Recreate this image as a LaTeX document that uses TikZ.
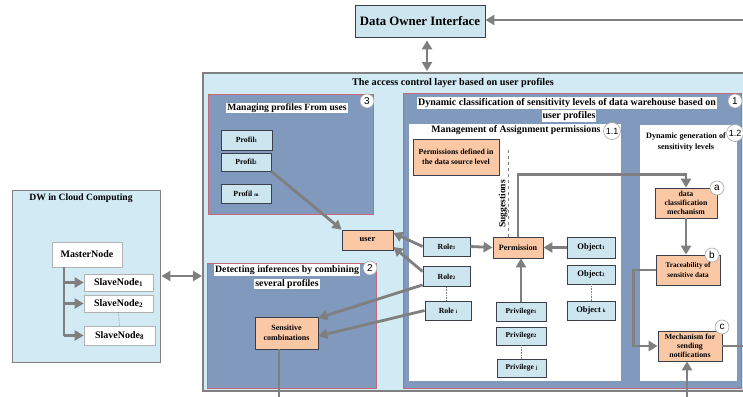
\documentclass[tikz,border=0pt]{standalone}
\usepackage{fontspec}
\setmainfont{Liberation Serif}
\newfontfamily\circfont{Liberation Sans}
\usetikzlibrary{arrows.meta,calc}
\definecolor{lb}{HTML}{D2EAF4}
\definecolor{bx}{HTML}{CDE5EE}
\definecolor{sb}{HTML}{8199BD}
\definecolor{og}{HTML}{FBC8A5}
\definecolor{ar}{HTML}{7F7F7F}
\definecolor{rb}{HTML}{C8667A}
\definecolor{dk}{HTML}{3A3F4A}
\newcommand{\sml}[1]{{\fontsize{5}{5}\selectfont #1}}
\newcommand{\fs}[1]{\fontsize{#1}{#1}\selectfont}
\begin{document}
\begin{tikzpicture}[x=1pt,y=-1pt,
  lbox/.style={draw=dk, fill=bx, line width=0.8pt, inner sep=0pt, font=\bfseries\fs{7.8}},
  wbox/.style={draw=gray!60, fill=white, line width=0.6pt, inner sep=0pt, font=\bfseries\fs{10}},
  obox/.style={draw=dk, fill=og, line width=0.8pt, inner sep=0pt, align=center, font=\bfseries\fontsize{8}{9}\selectfont},
  panel/.style={draw=rb, fill=sb, line width=0.8pt},
  ttl/.style={fill=white, inner sep=1pt, font=\bfseries\fs{9.8}},
  cnum/.style={circle, draw=gray!70, fill=white, line width=0.6pt, inner sep=0.5pt, minimum size=14pt, font=\circfont\fs{10}},
  arr/.style={draw=ar, line width=2.8pt, -{Triangle[length=9pt,width=10pt]}},
  darr/.style={draw=ar, line width=2.8pt, {Triangle[length=9pt,width=10pt]}-{Triangle[length=9pt,width=10pt]}},
  ln/.style={draw=ar, line width=2.8pt},
  dots/.style={draw=gray, line width=0.6pt, densely dotted}
]
\clip (0,0) rectangle (743,396);
\fill[white] (0,0) rectangle (743,396);

% Data owner interface
\node[draw=dk, fill=bx, line width=0.8pt, minimum width=130pt, minimum height=32pt, inner sep=0pt, font=\bfseries\fs{12.8}] (owner) at (420,21) {Data Owner Interface};
\coordinate (ownin) at (750,20);
\draw[arr] (ownin) -- (ownin -| owner.east);

% outer layer
\draw[fill=lb, draw=gray, line width=1.2pt] (203,73) rectangle (760,391);
\coordinate (layertop) at (427,73);
\coordinate (layerleft) at (203,276);
\draw[darr, shorten <=3pt, shorten >=2pt] (owner.south -| layertop) -- (layertop);
\node[font=\bfseries\fs{10.2}, inner sep=0pt] (layertitle) at (453,83) {The access control layer based on user profiles};

% DW in cloud computing
\node[draw=gray, fill=lb, line width=0.8pt, minimum width=148pt, minimum height=172pt, inner sep=0pt] (dw) at (86,276) {};
\node[font=\bfseries\fs{9.6}, inner sep=0pt] (dwtitle) at (81,198) {DW in Cloud Computing};
\node[wbox, minimum width=70pt, minimum height=25pt] (master) at (87,254.5) {MasterNode};
\node[wbox, minimum width=69pt, minimum height=17pt] (slave1) at (118.5,282.5) {SlaveNode\textsubscript{1}};
\node[wbox, minimum width=69pt, minimum height=17pt] (slave2) at (118.5,303.5) {SlaveNode\textsubscript{2}};
\node[wbox, minimum width=71pt, minimum height=19pt] (slave8) at (119.5,335.5) {SlaveNode\textsubscript{8}};
\coordinate (t0) at (64,267);
\draw[ln] (t0) -- (t0 |- slave8.west);
\draw[arr] (slave1.west -| t0) -- (slave1.west);
\draw[arr] (slave2.west -| t0) -- (slave2.west);
\draw[arr] (slave8.west -| t0) -- (slave8.west);
\draw[dots] (slave2.south) -- (slave8.north);
\draw[darr, shorten <=1pt, shorten >=1pt] (dw.east) -- (layerleft);

% Box 3
\draw[panel] (208,94) rectangle (373,214);
\node[ttl, font=\bfseries\fs{9.6}] (t3) at (287,108) {Managing profiles From uses};
\node[cnum] (c3) at (367,101) {3};
\node[lbox, minimum width=51pt, minimum height=20pt] (profil1) at (246.5,140) {Profil\sml{1}};
\node[lbox, minimum width=50pt, minimum height=18pt] (profil2) at (246,162) {Profil\sml{2}};
\node[lbox, minimum width=50pt, minimum height=19pt] (profilm) at (246,193.5) {Profil \sml{m}};

% user
\node[obox, minimum width=51pt, minimum height=20pt, font=\bfseries\fs{8.5}] (user) at (367.5,240) {user};

% Box 2
\draw[panel] (207,263) rectangle (376,388);
\node[ttl] (t2a) at (287,270) {Detecting inferences by combining};
\node[ttl] (t2b) at (287,284) {several profiles};
\node[cnum] (c2) at (370,268) {2};
\node[obox, minimum width=63pt, minimum height=32pt, font=\bfseries\fontsize{8}{10}\selectfont] (sens) at (286.5,333) {Sensitive\\combinations};
\coordinate (sensout) at (279,400);
\draw[ln] (sens.south -| sensout) -- (sensout);

% Box 1
\draw[panel] (403,93) rectangle (741,388);
\node[ttl, font=\bfseries\fs{10}] (t1a) at (567,103) {Dynamic classification of sensitivity levels of data warehouse based on};
\node[ttl, font=\bfseries\fs{10}] (t1b) at (569,116) {user profiles};
\node[cnum] (c1) at (735,101) {1};

% Box 1.1
\draw[fill=white, draw=none] (409,124) rectangle (621,381);
\node[fill=white, inner sep=1pt, font=\bfseries\fs{9.8}] (t11) at (516,130) {Management of Assignment permissions};
\node[cnum, minimum size=17pt, font=\circfont\fs{9}] (c11) at (612,131) {1.1};
\node[obox, minimum width=86pt, minimum height=36pt, font=\bfseries\fontsize{7.8}{10}\selectfont] (pdef) at (456,157) {Permissions defined in\\the data source level};
\coordinate (sugtop) at (508,150);
\node[obox, minimum width=50pt, minimum height=21pt, font=\bfseries\fs{8.1}] (perm) at (518,247.5) {Permission};
\draw[draw=gray, line width=0.6pt, dashed] (sugtop) -- (sugtop |- perm.north);
\node[rotate=90, inner sep=0pt, font=\bfseries\fs{9.5}] (sug) at (503,204) {Suggestions};

\node[lbox, minimum width=47pt, minimum height=19pt] (role1) at (446.5,246.5) {Role\sml{1}};
\node[lbox, minimum width=47pt, minimum height=20pt] (role2) at (446.5,276.5) {Role\sml{2}};
\node[lbox, minimum width=46pt, minimum height=19pt] (rolei) at (448,310.5) {Role \sml{i}};
\draw[dots] (role2.south) -- (role2.south |- rolei.north);

\node[lbox, minimum width=48pt, minimum height=21pt, font=\bfseries\fs{8.5}] (obj1) at (591,247.5) {Object\sml{1}};
\node[lbox, minimum width=48pt, minimum height=19pt, font=\bfseries\fs{8.5}] (obj2) at (591,274.5) {Object\sml{2}};
\node[lbox, minimum width=48pt, minimum height=19pt, font=\bfseries\fs{8.5}] (objk) at (591,310.5) {Object \sml{k}};
\draw[dots] (obj2.south) -- (objk.north);

\node[lbox, minimum width=50pt, minimum height=19pt, font=\bfseries\fs{7.5}] (priv1) at (521,311.5) {Privilege\sml{1}};
\node[lbox, minimum width=50pt, minimum height=18pt, font=\bfseries\fs{7.5}] (priv2) at (521,336) {Privilege\sml{2}};
\node[lbox, minimum width=49pt, minimum height=18pt, font=\bfseries\fs{7.5}] (privj) at (521.5,368) {Privilege \sml{j}};
\draw[dots] (priv2.south) -- (privj.north -| priv2.south);

% Box 1.2
\draw[fill=white, draw=none] (640,125) rectangle (737,381);
\node[inner sep=0pt, align=center, font=\bfseries\fontsize{8.2}{11.5}\selectfont] (t12) at (686,142) {Dynamic generation of\\sensitivity levels};
\node[cnum, minimum size=17pt, font=\circfont\fs{9}] (c12) at (735,133) {1.2};
\node[obox, minimum width=62pt, minimum height=30pt, font=\bfseries\fontsize{7.8}{8.8}\selectfont] (dcm) at (686,203) {data\\classification\\mechanism};
\node[cnum] (ca) at (717,188) {a};
\node[obox, minimum width=64pt, minimum height=30pt, font=\bfseries\fontsize{7.2}{9.5}\selectfont] (trace) at (688,270) {Traceability of\\sensitive data};
\node[cnum] (cb) at (712,255) {b};
\node[obox, minimum width=64pt, minimum height=30pt, font=\bfseries\fontsize{7.8}{8.8}\selectfont] (mech) at (690,346) {Mechanism for\\sending\\notifications};
\node[cnum] (cc) at (722,327) {c};

% connectors
\draw[arr] (profil2.south east) -- (user.north west);
\draw[arr] (role1.west) -- ($(user.east)+(0,-7)$);
\draw[arr] ($(role2.west)+(0,-5)$) -- ($(user.east)+(0,7)$);
\draw[arr] ($(role2.south west)+(0,-2)$) -- ($(sens.east)+(0,-15)$);
\draw[arr] (rolei.west) -- ($(sens.east)+(0,3)$);
\draw[arr] (role1.east) -- (perm.west);
\draw[arr] (obj1.west) -- (perm.east);
\draw[arr] (priv1.north) -- (priv1.north |- perm.south);
\draw[arr] (perm.north) -- ++(0,-62) -| (dcm.north);
\draw[arr] (dcm.south) -- (dcm.south |- trace.north);
\draw[arr] (trace.west) -- ++(-22,0) |- (mech.west);
\coordinate (mechout) at (750,346);
\draw[ln] (mech.east) -- (mechout);
\coordinate (mechin) at (687,400);
\draw[arr] (mechin) -- (mechin |- mech.south);
\end{tikzpicture}
\end{document}
